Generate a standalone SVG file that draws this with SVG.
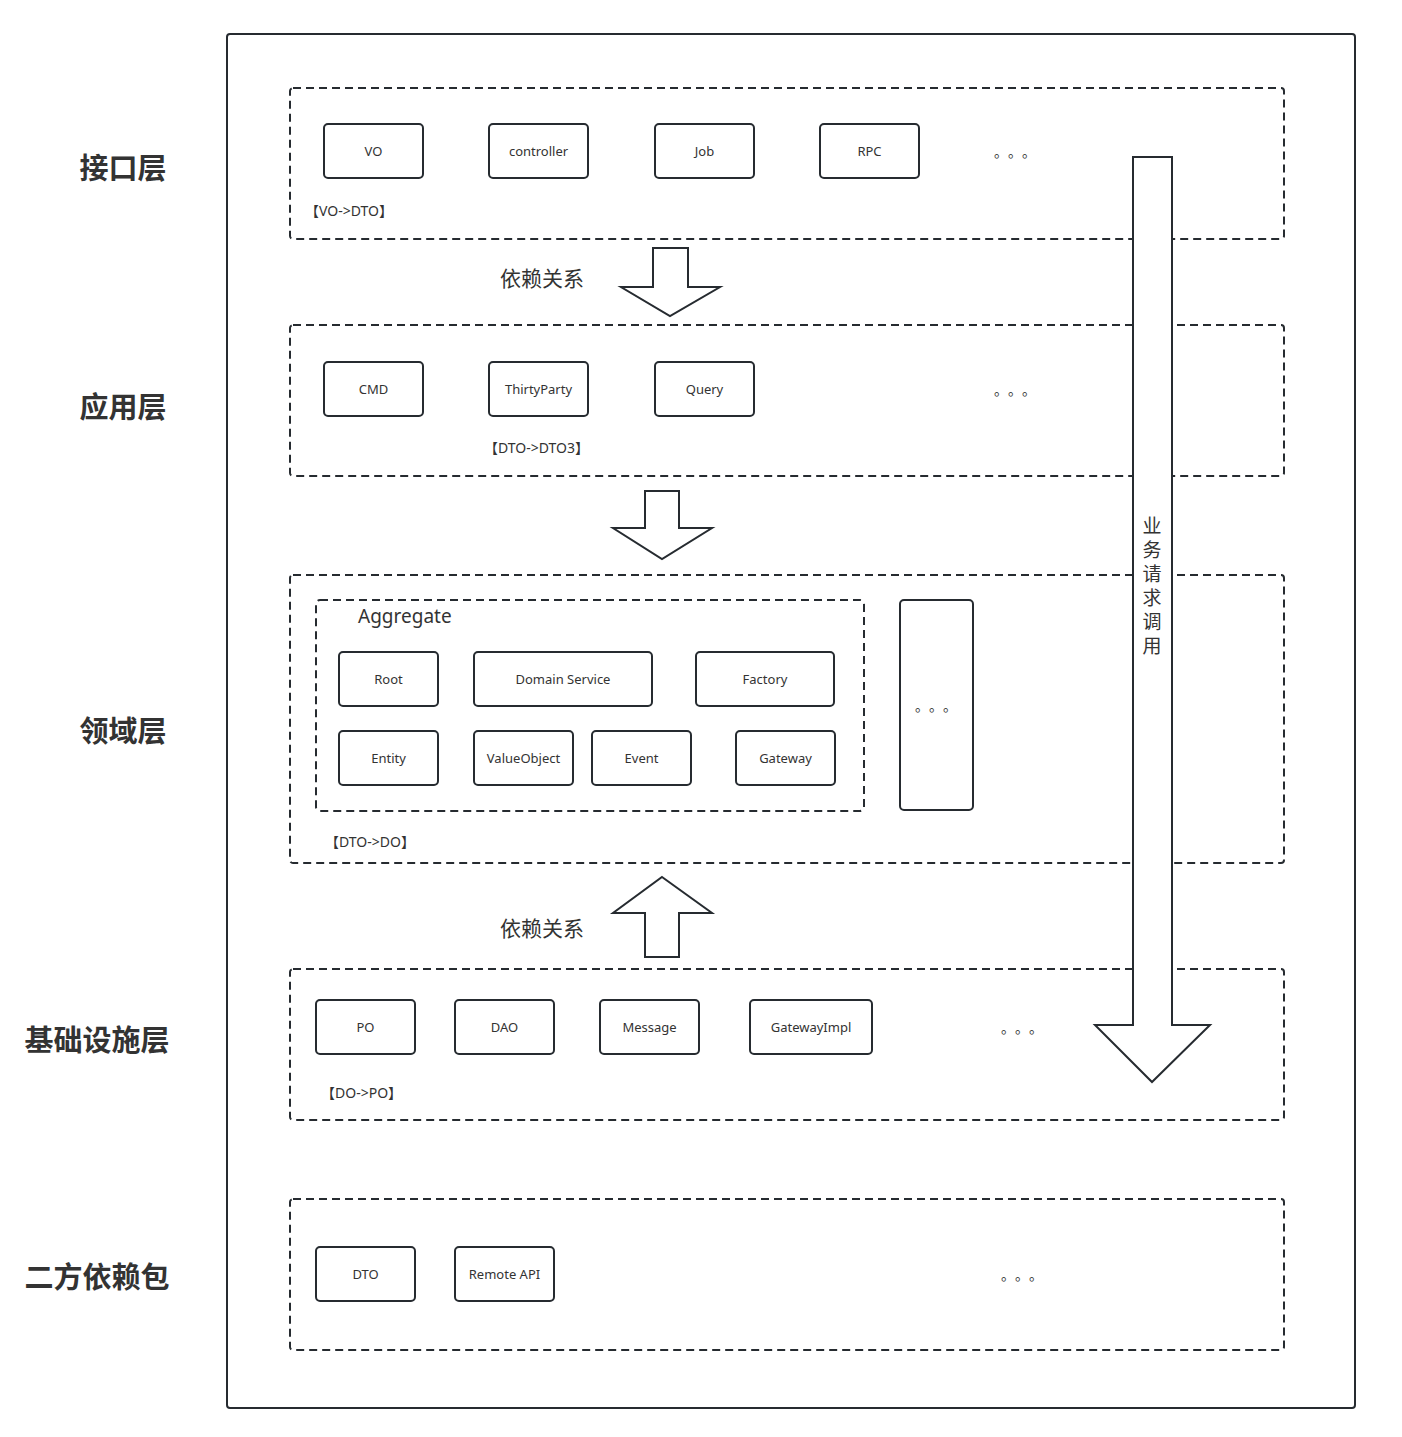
<svg xmlns="http://www.w3.org/2000/svg" width="1402" height="1437" viewBox="0 0 1402 1437">
<style>
text{font-family:"Noto Sans","Noto Sans CJK SC",sans-serif;fill:#333;}
.node rect{fill:#fff;stroke:#262b30;stroke-width:2;}
.node text{font-size:13px;text-anchor:middle;dominant-baseline:central;}
.layer{fill:none;stroke:#262b30;stroke-width:2;stroke-dasharray:8 5;}
.lbl{font-size:14px;}
.title{font-family:"Noto Sans CJK SC",sans-serif;font-size:29px;font-weight:bold;text-anchor:middle;dominant-baseline:central;}
.dots{font-family:"Noto Sans CJK SC",sans-serif;font-size:14px;}
.arrow{fill:#fff;stroke:#262b30;stroke-width:2;stroke-linejoin:miter;}
.cjk{font-family:"Noto Sans CJK SC",sans-serif;font-size:21px;}
.vert{font-family:"Noto Sans CJK SC",sans-serif;font-size:19px;writing-mode:tb;letter-spacing:5px;}
</style>
<rect width="1402" height="1437" fill="#fff"/>
<rect id="frame" x="227" y="34" width="1128" height="1374" rx="3" fill="none" stroke="#262b30" stroke-width="2"/>

<g id="titles">
<text class="title" x="123" y="166">接口层</text>
<text class="title" x="123" y="405">应用层</text>
<text class="title" x="123" y="729">领域层</text>
<text class="title" x="97" y="1038">基础设施层</text>
<text class="title" x="97" y="1275">二方依赖包</text>
</g>

<g id="layer-interface">
<rect class="layer" x="290" y="88" width="994" height="151" rx="3"/>
<g class="node" id="n-vo"><rect x="324" y="124" width="99" height="54" rx="4"/><text x="373.5" y="151">VO</text></g>
<g class="node" id="n-controller"><rect x="489" y="124" width="99" height="54" rx="4"/><text x="538.5" y="151">controller</text></g>
<g class="node" id="n-job"><rect x="655" y="124" width="99" height="54" rx="4"/><text x="704.5" y="151">Job</text></g>
<g class="node" id="n-rpc"><rect x="820" y="124" width="99" height="54" rx="4"/><text x="869.5" y="151">RPC</text></g>
<text class="dots" x="994 1008 1022" y="157">。。。</text>
<text class="lbl" x="305" y="216">【VO-&gt;DTO】</text>
</g>

<g id="layer-app">
<rect class="layer" x="290" y="325" width="994" height="151" rx="3"/>
<g class="node" id="n-cmd"><rect x="324" y="362" width="99" height="54" rx="4"/><text x="373.5" y="389">CMD</text></g>
<g class="node" id="n-thirty"><rect x="489" y="362" width="99" height="54" rx="4"/><text x="538.5" y="389">ThirtyParty</text></g>
<g class="node" id="n-query"><rect x="655" y="362" width="99" height="54" rx="4"/><text x="704.5" y="389">Query</text></g>
<text class="dots" x="994 1008 1022" y="395">。。。</text>
<text class="lbl" x="484" y="453">【DTO-&gt;DTO3】</text>
</g>

<g id="layer-domain">
<rect class="layer" x="290" y="575" width="994" height="288" rx="3"/>
<g id="aggregate">
<rect class="layer" x="316" y="600" width="548" height="211" rx="4"/>
<text x="358" y="623" style="font-size:19px;">Aggregate</text>
</g>
<g class="node" id="n-root"><rect x="339" y="652" width="99" height="54" rx="4"/><text x="388.5" y="679">Root</text></g>
<g class="node" id="n-ds"><rect x="474" y="652" width="178" height="54" rx="4"/><text x="563" y="679">Domain Service</text></g>
<g class="node" id="n-factory"><rect x="696" y="652" width="138" height="54" rx="4"/><text x="765" y="679">Factory</text></g>
<g class="node" id="n-entity"><rect x="339" y="731" width="99" height="54" rx="4"/><text x="388.5" y="758">Entity</text></g>
<g class="node" id="n-vobj"><rect x="474" y="731" width="99" height="54" rx="4"/><text x="523.5" y="758">ValueObject</text></g>
<g class="node" id="n-event"><rect x="592" y="731" width="99" height="54" rx="4"/><text x="641.5" y="758">Event</text></g>
<g class="node" id="n-gateway"><rect x="736" y="731" width="99" height="54" rx="4"/><text x="785.5" y="758">Gateway</text></g>
<g id="n-more"><rect x="900" y="600" width="73" height="210" rx="4" fill="#fff" stroke="#262b30" stroke-width="2"/><text class="dots" x="915 929 943" y="711">。。。</text></g>
<text class="lbl" x="325" y="847">【DTO-&gt;DO】</text>
</g>

<g id="layer-infra">
<rect class="layer" x="290" y="969" width="994" height="151" rx="3"/>
<g class="node" id="n-po"><rect x="316" y="1000" width="99" height="54" rx="4"/><text x="365.5" y="1027">PO</text></g>
<g class="node" id="n-dao"><rect x="455" y="1000" width="99" height="54" rx="4"/><text x="504.5" y="1027">DAO</text></g>
<g class="node" id="n-msg"><rect x="600" y="1000" width="99" height="54" rx="4"/><text x="649.5" y="1027">Message</text></g>
<g class="node" id="n-gwi"><rect x="750" y="1000" width="122" height="54" rx="4"/><text x="811" y="1027">GatewayImpl</text></g>
<text class="dots" x="1001 1015 1029" y="1033">。。。</text>
<text class="lbl" x="321" y="1098">【DO-&gt;PO】</text>
</g>

<g id="layer-second">
<rect class="layer" x="290" y="1199" width="994" height="151" rx="3"/>
<g class="node" id="n-dto"><rect x="316" y="1247" width="99" height="54" rx="4"/><text x="365.5" y="1274">DTO</text></g>
<g class="node" id="n-remote"><rect x="455" y="1247" width="99" height="54" rx="4"/><text x="504.5" y="1274">Remote API</text></g>
<text class="dots" x="1001 1015 1029" y="1280">。。。</text>
</g>

<g id="connectors">
<polygon class="arrow" points="653,248 688,248 688,287 720,287 670,316 621,287 653,287"/>
<polygon class="arrow" points="645,491 679,491 679,528 712,528 662,559 613,528 645,528"/>
<polygon class="arrow" points="662,877 712,913 679,913 679,957 645,957 645,913 613,913"/>
<polygon class="arrow" points="1133,157 1172,157 1172,1025 1210,1025 1152,1082 1095,1025 1133,1025"/>
<text class="cjk" x="500" y="286">依赖关系</text>
<text class="cjk" x="500" y="936">依赖关系</text>
<text class="vert" x="1152" y="516">业务请求调用</text>
</g>
</svg>
